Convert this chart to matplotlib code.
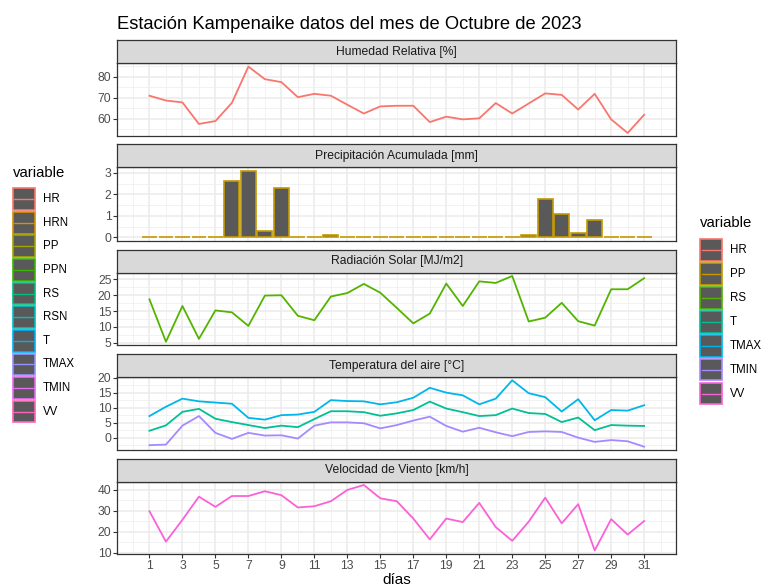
import matplotlib
matplotlib.use("Agg")
import matplotlib.pyplot as plt
from matplotlib.patches import Rectangle
from matplotlib.lines import Line2D
from matplotlib.ticker import MultipleLocator, FixedLocator

plt.rcParams["font.family"] = ["Liberation Sans", "DejaVu Sans"]

W, H = 763, 587

# --- data ---
dias = list(range(1, 32))
hr = [71.0, 68.7, 67.8, 57.5, 58.9, 67.6, 84.9, 78.9, 77.5, 70.3, 71.9, 71.0, 66.7, 62.5, 65.9, 66.2,
      66.2, 58.4, 61.0, 59.7, 60.2, 67.5, 62.5, 67.3, 72.1, 71.4, 64.4, 71.9, 59.7, 53.2, 61.9]
pp = [0, 0, 0, 0, 0, 2.6, 3.1, 0.3, 2.3, 0, 0, 0.1, 0, 0, 0, 0,
      0, 0, 0, 0, 0, 0, 0, 0.1, 1.8, 1.1, 0.2, 0.8, 0, 0, 0]
rs = [18.7, 5.3, 16.6, 6.2, 15.2, 14.6, 10.3, 19.9, 20.0, 13.5, 12.1, 19.6, 20.7, 23.6, 20.8, 16.0,
      11.1, 14.2, 23.7, 16.6, 24.4, 23.9, 26.1, 11.7, 12.9, 17.6, 11.8, 10.4, 21.9, 21.9, 25.4]
tmax = [7.3, 10.4, 13.1, 12.2, 11.8, 11.4, 6.7, 6.1, 7.6, 7.8, 8.7, 12.6, 12.3, 12.2, 11.2, 11.9,
        13.4, 16.7, 15.1, 14.2, 11.2, 13.1, 19.2, 14.9, 13.6, 8.8, 12.9, 5.9, 9.3, 9.1, 10.9]
temp = [2.4, 4.2, 8.7, 9.7, 6.4, 5.3, 4.3, 3.3, 4.1, 3.6, 6.3, 8.9, 8.9, 8.6, 7.4, 8.2,
        9.3, 12.1, 9.8, 8.6, 7.3, 7.6, 9.8, 8.3, 8.0, 5.3, 6.8, 2.6, 4.3, 4.1, 4.0]
tmin = [-2.4, -2.2, 4.1, 7.3, 1.7, -0.3, 1.7, 0.8, 0.9, -0.2, 4.1, 5.2, 5.2, 4.9, 3.2, 4.3,
        5.8, 7.1, 4.0, 2.1, 3.4, 1.9, 0.6, 2.0, 2.2, 2.0, 0.1, -1.3, -0.7, -1.1, -2.9]
vv = [29.8, 15.2, 25.7, 36.8, 31.9, 37.1, 37.1, 39.4, 37.5, 31.6, 32.2, 34.6, 40.0, 42.4, 36.0, 34.6,
      26.3, 16.3, 26.3, 24.6, 33.8, 22.2, 15.6, 24.8, 36.3, 24.0, 33.2, 11.0, 26.0, 18.6, 25.1]

panel_titles = ["Humedad Relativa [%]", "Precipitación Acumulada [mm]", "Radiación Solar [MJ/m2]",
                "Temperatura del aire [°C]", "Velocidad de Viento [km/h]"]

legend_left = ["HR", "HRN", "PP", "PPN", "RS", "RSN", "T", "TMAX", "TMIN", "VV"]
legend_left_colors = ["#F8766D", "#D89000", "#A3A500", "#39B600", "#00BF7D",
                      "#00BFC4", "#00B0F6", "#9590FF", "#E76BF3", "#FF62BC"]
legend_right = ["HR", "PP", "RS", "T", "TMAX", "TMIN", "VV"]
legend_right_colors = ["#F8766D", "#C49A00", "#53B400", "#00C094", "#00B6EB", "#A58AFF", "#FB61D7"]
col = dict(zip(legend_right, legend_right_colors))

small = 8.7  # tick / strip label size
leg_size = 8.3


def px_axes(fig, x0, y0, x1, y1):
    return fig.add_axes([x0 / W, 1 - y1 / H, (x1 - x0) / W, (y1 - y0) / H])


def expanded(values):
    lo, hi = min(values), max(values)
    pad = 0.05 * (hi - lo)
    return lo - pad, hi + pad


def style_panel(ax, ystep, ylim, show_x):
    ax.set_xlim(-0.95, 32.95)
    ax.set_ylim(*ylim)
    ax.xaxis.set_major_locator(FixedLocator(range(1, 32, 2)))
    ax.xaxis.set_minor_locator(FixedLocator(range(0, 33, 2)))
    ax.yaxis.set_major_locator(MultipleLocator(ystep))
    ax.yaxis.set_minor_locator(MultipleLocator(ystep / 2))
    ax.grid(which="minor", color="#F0F0F0", lw=0.6)
    ax.grid(which="major", color="#EBEBEB", lw=1.1)
    ax.set_axisbelow(True)
    for s in ax.spines.values():
        s.set_color("#333333")
        s.set_linewidth(0.9)
    ax.tick_params(which="major", length=2.6, width=0.8, color="#333333",
                   labelsize=small, labelcolor="#4D4D4D", pad=1.6)
    ax.tick_params(which="minor", length=0)
    if not show_x:
        ax.tick_params(axis="x", which="both", bottom=False, labelbottom=False)


def draw_legend(fig, x, y_title, y_top, step, names, colors, label_dx):
    fig.text(x / W, 1 - y_title / H, "variable", fontsize=10.7, va="center", ha="left")
    kw, kh = 22, 21.7
    for i, (n, c) in enumerate(zip(names, colors)):
        top = y_top + i * step
        fig.add_artist(Rectangle((x / W, 1 - (top + kh) / H), kw / W, kh / H,
                                 transform=fig.transFigure, facecolor="#595959",
                                 edgecolor=c, lw=1.2))
        fig.add_artist(Line2D([(x + 1.5) / W, (x + kw - 1.5) / W], [1 - (top + kh / 2) / H] * 2,
                              transform=fig.transFigure, color=c, lw=1.0))
        fig.text((x + label_dx) / W, 1 - (top + kh / 2) / H, n, fontsize=leg_size,
                 va="center", ha="left")


fig = plt.figure(figsize=(W / 100, H / 100), dpi=100)

x0, x1 = 117.3, 676.3
tops = [63.3, 167.3, 272.7, 377.0, 481.7]
bottoms = [136.3, 240.7, 345.0, 450.0, 553.7]
axes = []
for i, (t, b) in enumerate(zip(tops, bottoms)):
    ax = px_axes(fig, x0, t, x1, b)
    axes.append(ax)
    strip = px_axes(fig, x0, t - 23, x1, t)
    strip.set_facecolor("#D9D9D9")
    strip.set_xticks([])
    strip.set_yticks([])
    for s in strip.spines.values():
        s.set_color("#333333")
        s.set_linewidth(0.9)
    strip.text(0.5, 0.5, panel_titles[i], ha="center", va="center",
               fontsize=small, color="#1A1A1A", transform=strip.transAxes)

lw = 1.3
axes[0].plot(dias, hr, color=col["HR"], lw=lw)
style_panel(axes[0], 10, expanded(hr), False)

axes[1].bar(dias, pp, width=0.9, color="#595959", edgecolor=col["PP"], lw=1.2)
style_panel(axes[1], 1, expanded(pp), False)

axes[2].plot(dias, rs, color=col["RS"], lw=lw)
style_panel(axes[2], 5, expanded(rs), False)

axes[3].plot(dias, temp, color=col["T"], lw=lw)
axes[3].plot(dias, tmax, color=col["TMAX"], lw=lw)
axes[3].plot(dias, tmin, color=col["TMIN"], lw=lw)
style_panel(axes[3], 5, expanded(temp + tmax + tmin), False)

axes[4].plot(dias, vv, color=col["VV"], lw=lw)
style_panel(axes[4], 10, expanded(vv), True)

fig.text(x0 / W, 1 - 29.3 / H, "Estación Kampenaike datos del mes de Octubre de 2023",
         fontsize=13.2, ha="left", va="baseline")
fig.text((x0 + x1) / 2 / W, 1 - 580 / H, "días", fontsize=11, ha="center", va="center")

draw_legend(fig, 12.5, 172.7, 188.3, 23.6, legend_left, legend_left_colors, 30.5)
draw_legend(fig, 700.3, 223.3, 239.0, 23.95, legend_right, legend_right_colors, 29.5)

fig.savefig("out.png", dpi=100)
